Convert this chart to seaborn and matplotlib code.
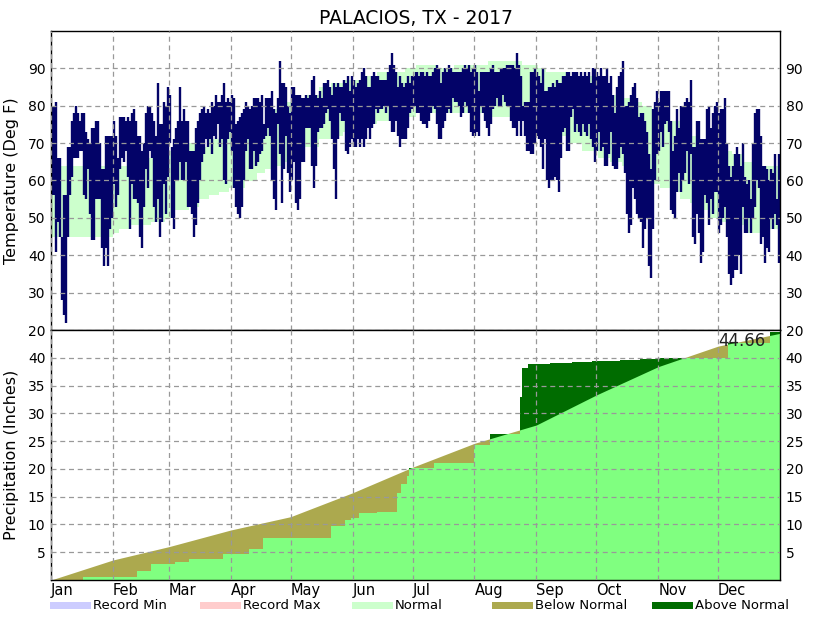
import numpy as np
import matplotlib
matplotlib.use("Agg")
import matplotlib.pyplot as plt
from matplotlib.patches import Rectangle
import seaborn as sns

# --- Data ---
TITLE = "PALACIOS, TX - 2017"
MONTHS = ["Jan", "Feb", "Mar", "Apr", "May", "Jun", "Jul", "Aug", "Sep", "Oct", "Nov", "Dec"]
MONTH_START = [0, 31, 59, 90, 120, 151, 181, 212, 243, 273, 304, 334]

# daily observed high / low (Deg F), Jan 1 .. Dec 31
DAY_HI = [
    80, 80, 81, 66, 66, 45, 56, 56, 69, 69, 76, 78, 80, 78, 76, 78, 78, 73, 71, 70,
    74, 74, 76, 76, 70, 63, 63, 72, 72, 72, 72, 76, 72, 66, 77, 77, 77, 76, 77, 76,
    78, 79, 76, 72, 72, 68, 70, 78, 80, 80, 78, 76, 72, 86, 75, 75, 81, 80, 85, 83,
    69,
    71, 74, 76, 85, 76, 79, 76, 76, 68, 68, 68, 74, 76, 78, 79, 80, 78, 79, 78, 81,
    80, 83, 81, 81, 83, 86, 81, 82, 81, 83, 82, 75, 76, 77, 78, 79, 81, 80, 79, 80,
    82, 82, 82, 81, 83, 75, 82, 82, 82, 84, 79, 78, 82, 92, 86, 86, 85, 80, 78, 85,
    85,
    83, 83, 83, 82, 82, 83, 82, 83, 87, 88, 83, 82, 84, 82, 86, 86, 87, 85, 83, 86,
    85, 86, 85, 85, 87, 86, 88, 84, 88, 87, 85, 86, 87, 89, 90, 88, 85, 85, 88, 89,
    88, 88, 87, 87, 87, 87, 89, 91, 94, 91, 89, 85, 88, 86, 85, 86, 88, 86, 88, 88,
    89,
    89, 88, 89, 89, 88, 89, 88, 88, 89, 90, 91, 90, 86, 89, 90, 89, 91, 90, 89, 89,
    89, 89, 89, 90, 91, 90, 91, 89, 90, 91, 89, 84, 89, 89, 89, 89, 89, 90, 91, 89,
    89, 89, 90, 90, 90, 91, 91, 91, 91, 90, 94, 91, 88, 80, 81, 81, 81, 89, 89, 90,
    89,
    88, 86, 90, 84, 84, 85, 85, 86, 85, 87, 86, 86, 88, 88, 89, 89, 88, 89, 89, 89,
    88, 89, 88, 89, 88, 89, 86, 90, 90, 89, 88, 90, 88, 88, 90, 86, 88, 83, 78, 85,
    88, 89, 92, 80, 80, 81, 83, 85, 86, 82, 77, 78, 78, 76, 73, 67, 63, 79, 81, 84,
    81,
    84, 84, 84, 84, 84, 76, 68, 72, 79, 74, 80, 80, 81, 82, 81, 87, 69, 69, 76, 76,
    71, 71, 71, 79, 80, 74, 78, 80, 81, 78, 79, 79, 82, 70, 64, 61, 64, 67, 69, 67,
    64, 70, 61, 59, 60, 55, 70, 78, 79, 79, 72, 64, 64, 63, 60, 63, 62, 67, 55, 67,
]
DAY_LO = [
    56, 56, 41, 49, 45, 28, 24, 22, 45, 56, 61, 66, 66, 66, 68, 68, 56, 55, 63, 51,
    44, 44, 55, 55, 55, 42, 37, 42, 37, 47, 50, 59, 53, 56, 63, 66, 65, 68, 61, 47,
    59, 55, 55, 54, 45, 42, 53, 63, 58, 68, 66, 53, 49, 55, 45, 49, 59, 51, 61, 70,
    50,
    47, 60, 60, 65, 60, 60, 65, 53, 53, 51, 45, 48, 54, 60, 65, 67, 71, 69, 71, 67,
    72, 71, 75, 69, 71, 60, 59, 71, 73, 68, 58, 53, 51, 50, 53, 60, 68, 71, 63, 63,
    68, 64, 65, 67, 68, 71, 72, 74, 72, 60, 55, 52, 75, 67, 54, 63, 72, 62, 57, 60,
    65,
    54, 52, 55, 65, 65, 74, 74, 74, 64, 58, 64, 73, 74, 74, 75, 78, 79, 76, 71, 63,
    55, 71, 78, 76, 76, 68, 67, 69, 71, 69, 69, 71, 69, 71, 69, 71, 74, 71, 74, 75,
    79, 78, 79, 79, 80, 78, 80, 76, 73, 73, 76, 72, 69, 71, 71, 71, 74, 78, 79, 80,
    80,
    78, 78, 76, 75, 75, 74, 76, 78, 80, 79, 75, 71, 71, 74, 76, 78, 79, 78, 82, 81,
    81, 80, 77, 78, 81, 80, 78, 73, 72, 72, 73, 72, 80, 78, 76, 74, 72, 75, 79, 80,
    82, 80, 80, 83, 81, 80, 80, 76, 74, 74, 72, 76, 72, 76, 72, 68, 68, 67, 67, 70,
    72,
    71, 69, 63, 71, 60, 58, 60, 60, 61, 60, 57, 66, 73, 74, 68, 68, 77, 79, 73, 75,
    73, 72, 75, 73, 72, 75, 71, 69, 65, 68, 73, 68, 69, 64, 64, 67, 73, 64, 63, 63,
    66, 69, 67, 62, 51, 46, 48, 58, 55, 51, 50, 49, 42, 47, 50, 37, 34, 47, 60, 67,
    68,
    73, 69, 75, 76, 73, 52, 51, 50, 57, 62, 57, 60, 62, 68, 59, 67, 45, 43, 51, 46,
    38, 41, 56, 54, 48, 55, 51, 57, 57, 46, 48, 50, 53, 45, 35, 32, 34, 36, 36, 40,
    35, 53, 46, 46, 50, 46, 50, 53, 60, 58, 43, 45, 38, 42, 41, 50, 47, 51, 48, 38,
]

# normal temperature band, stepped (start day, low, high)
NORM_T_START = [0, 31, 34, 40, 50, 57, 61, 69, 74, 79, 84, 89, 97, 103, 107, 111, 116, 122,
                127, 134, 140, 146, 152, 158, 163, 170, 177, 183, 193, 202, 219, 236, 244,
                248, 258, 266, 274, 280, 286, 291, 296, 301, 305, 310, 315, 320, 325, 330,
                336, 341, 347, 355]
NORM_T_LO = [45, 46, 47, 48, 49, 50, 52, 53, 55, 56, 57, 58, 60, 62, 63, 64, 65, 67, 69, 71,
             72, 73, 74, 75, 76, 76, 77, 78, 78, 78, 77, 76, 74, 72, 70, 68, 66, 65, 64, 62,
             61, 59, 58, 57, 55, 54, 52, 50, 49, 48, 46, 47]
NORM_T_HI = [64, 63, 64, 66, 66, 68, 66, 70, 69, 71, 73, 73, 72, 74, 76, 79, 81, 81, 83, 85,
             86, 87, 87, 88, 89, 89, 90, 91, 90, 91, 92, 91, 90, 89, 88, 88, 85, 83, 82, 81,
             80, 79, 76, 76, 73, 72, 71, 70, 68, 67, 65, 64]

# observed cumulative precipitation (inches), steps at these days
PRECIP_DAY = [0, 16, 43, 50, 62, 69, 86, 99, 106, 140, 147, 150, 154, 163, 173, 175, 178, 179,
              192, 212, 220, 235, 236, 239, 250, 261, 271, 285, 295, 303, 339, 360]
PRECIP_CUM = [0.0, 0.5, 1.6, 2.9, 3.3, 3.8, 4.7, 5.6, 7.6, 9.7, 10.8, 11.1, 12.0, 12.2, 15.6,
              17.2, 18.7, 20.1, 21.0, 24.3, 26.2, 33.0, 38.1, 38.8, 39.0, 39.2, 39.4, 39.6,
              39.8, 40.0, 42.6, 44.66]

# normal cumulative precipitation at month starts
NORM_P_DAY = [0, 31, 59, 90, 120, 151, 181, 212, 243, 273, 304, 334, 365]
NORM_P = [0.0, 3.6, 6.0, 9.0, 11.4, 15.7, 20.3, 24.6, 27.9, 33.3, 38.4, 42.1, 44.4]

LEGEND_LABELS = ["Record Min", "Record Max", "Normal", "Below Normal", "Above Normal"]

# --- Colours ---
NAVY = "#030368"
BAND = "#ccffcc"
P_NORMAL = "#80ff80"
BELOW = "#aca94e"
ABOVE = "#006c00"
REC_MIN = "#ccccff"
REC_MAX = "#ffcccc"
GRID = "#999999"

sns.set_theme(style="white")
plt.rcParams["font.family"] = ["DejaVu Sans"]
plt.rcParams["text.color"] = "black"
plt.rcParams["axes.labelcolor"] = "black"
plt.rcParams["xtick.color"] = "black"
plt.rcParams["ytick.color"] = "black"

W, H = 830, 620
fig = plt.figure(figsize=(W / 100, H / 100), dpi=100)
left, right = 51 / W, 780 / W
ax1 = fig.add_axes([left, 1 - 330 / H, right - left, 299 / H])
ax2 = fig.add_axes([left, 1 - 580 / H, right - left, 250 / H], sharex=ax1)

# --- Temperature panel ---
band_x = NORM_T_START + [365]
band_lo = NORM_T_LO + [NORM_T_LO[-1]]
band_hi = NORM_T_HI + [NORM_T_HI[-1]]
ax1.fill_between(band_x, band_lo, band_hi, step="post", color=BAND, linewidth=0)

# one vertical stroke per day, about one day wide
day_mid = np.arange(len(DAY_HI)) + 0.5
ax1.vlines(day_mid, DAY_LO, DAY_HI, colors=NAVY, linewidth=1.7, capstyle="butt")
ax1.set_ylim(20, 100)
ax1.set_yticks(range(20, 100, 10))
ax1.set_ylabel("Temperature (Deg F)", fontsize=11.5, labelpad=6)
ax1.set_title(TITLE, fontsize=13.5, pad=5)

# --- Precipitation panel ---
obs_x = PRECIP_DAY + [365]
obs_y = PRECIP_CUM + [PRECIP_CUM[-1]]
ax2.fill_between(NORM_P_DAY, 0, NORM_P, color=BELOW, linewidth=0)
obs = ax2.fill_between(obs_x, 0, obs_y, step="post", color=ABOVE, linewidth=0)
light = ax2.fill_between(NORM_P_DAY, 0, NORM_P, color=P_NORMAL, linewidth=0)
light.set_clip_path(obs.get_paths()[0], ax2.transData)
ax2.set_ylim(0, 45)
ax2.set_yticks(range(5, 45, 5))
ax2.set_ylabel("Precipitation (Inches)", fontsize=11.5, labelpad=6)
ax2.text(357.5, PRECIP_CUM[-1], f"{PRECIP_CUM[-1]:.2f}", ha="right", va="top",
         fontsize=12, color="#222222")

ax2.set_xlim(0, 365)
ax2.set_xticks(MONTH_START)
ax2.set_xticklabels(MONTHS, ha="left")

for ax in (ax1, ax2):
    ax.grid(True, color=GRID, linestyle=(0, (4, 3)), linewidth=0.9)
    ax.set_axisbelow(False)
    ax.tick_params(axis="y", length=0, pad=4, labelsize=10, labelright=True)
    ax.tick_params(axis="x", length=0, pad=2, labelsize=10.5)
    for sp in ax.spines.values():
        sp.set_color("black")
        sp.set_linewidth(1)
ax1.tick_params(axis="x", labelbottom=False)

# --- Legend strip ---
leg_x = [50, 200, 352, 492, 652]
leg_colors = [REC_MIN, REC_MAX, BAND, BELOW, ABOVE]
for x, lab, c in zip(leg_x, LEGEND_LABELS, leg_colors):
    fig.add_artist(Rectangle((x / W, 1 - 609 / H), 41 / W, 7 / H,
                             transform=fig.transFigure, color=c, linewidth=0))
    fig.text((x + 43) / W, 1 - 605.5 / H, lab, va="center", ha="left", fontsize=9.5)

fig.savefig("out.png", dpi=100)
